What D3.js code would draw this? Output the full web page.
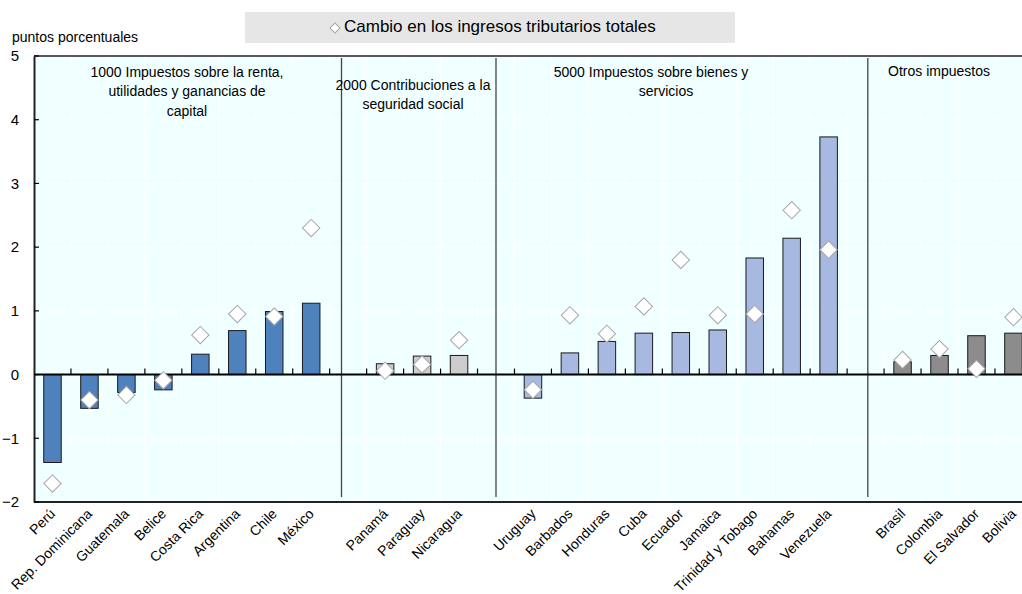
<!DOCTYPE html>
<html><head><meta charset="utf-8">
<script src="https://cdn.jsdelivr.net/npm/d3@7/dist/d3.min.js"></script>
<style>
body{margin:0;background:#fff;}
svg{display:block;font-family:"Liberation Sans",Arial,sans-serif;}
</style></head>
<body><svg id="c" width="1022" height="594"></svg>
<script>
const categories = ["Perú","Rep. Dominicana","Guatemala","Belice","Costa Rica","Argentina","Chile","México",
  "Panamá","Paraguay","Nicaragua",
  "Uruguay","Barbados","Honduras","Cuba","Ecuador","Jamaica","Trinidad y Tobago","Bahamas","Venezuela",
  "Brasil","Colombia","El Salvador","Bolivia"];
const groupIndex = [0,0,0,0,0,0,0,0, 1,1,1, 2,2,2,2,2,2,2,2,2, 3,3,3,3];
const groupValues = [-1.38,-0.53,-0.28,-0.24,0.32,0.69,0.99,1.12,
  0.17,0.29,0.30,
  -0.37,0.34,0.52,0.65,0.66,0.70,1.83,2.14,3.73,
  0.20,0.30,0.61,0.65];
const totalChange = [-1.71,-0.40,-0.32,-0.09,0.62,0.95,0.91,2.30,
  0.06,0.16,0.54,
  -0.24,0.93,0.64,1.07,1.80,0.93,0.95,2.58,1.96,
  0.23,0.40,0.09,0.90];
const groupLabels = [["1000 Impuestos sobre la renta,","utilidades y ganancias de","capital"],
  ["2000 Contribuciones a la","seguridad social"],
  ["5000 Impuestos sobre bienes y","servicios"],
  ["Otros impuestos"]];
const yTicks = [-2,-1,0,1,2,3,4,5];
const legendLabel = "Cambio en los ingresos tributarios totales";
const yAxisTitle = "puntos porcentuales";

const groupColors = ["#4f81bd","#cccccc","#a7b8e1","#8c8c8c"];
const svg = d3.select("#c");

// slot positions: one empty slot between groups
const slots = [];
let s = 0;
categories.forEach((c,i)=>{ if(i>0 && groupIndex[i]!==groupIndex[i-1]) s++; slots.push(s); s++; });
const nSlots = s;
const gapSlots = [];
for(let i=1;i<categories.length;i++) if(groupIndex[i]!==groupIndex[i-1]) gapSlots.push(slots[i]-1);

const x = d3.scaleLinear().domain([0,nSlots]).range([34,34+36.96*nSlots]);
const y = d3.scaleLinear().domain([-2,5]).range([502,56]);
const L=34, R=1022, T=56, B=502;

// background
svg.append("rect").attr("x",L).attr("y",T).attr("width",R-L).attr("height",B-T).attr("fill","#f0ffff");
// gridlines
svg.append("g").selectAll("line").data(d3.range(1,nSlots)).join("line")
  .attr("x1",d=>x(d)).attr("x2",d=>x(d)).attr("y1",T).attr("y2",B)
  .attr("stroke","#fff").attr("stroke-width",1);
svg.append("g").selectAll("line").data(yTicks.filter(v=>v!==0)).join("line")
  .attr("x1",L).attr("x2",R).attr("y1",d=>y(d)).attr("y2",d=>y(d))
  .attr("stroke","#fff").attr("stroke-width",1);

// group separators
const sepOffsets = [0.32,0.5,0.56];
svg.append("g").selectAll("line").data(gapSlots).join("line")
  .attr("x1",(d,i)=>x(d+sepOffsets[i])).attr("x2",(d,i)=>x(d+sepOffsets[i]))
  .attr("y1",T+2).attr("y2",B-5)
  .attr("stroke","#444").attr("stroke-width",1.3);

// group headers
const headerCenters = [[187,187,187],[413,413],[651,666],[939]];
const headerTops = [73,86,73,72];
groupLabels.forEach((lines,g)=>{
  lines.forEach((t,k)=>{
    svg.append("text").attr("x",headerCenters[g][k]).attr("y",headerTops[g]+k*19.5)
      .attr("text-anchor","middle").attr("dominant-baseline","middle")
      .attr("font-size",14).attr("fill","#000").text(t);
  });
});

// bars
const bw = 17.5;
svg.append("g").selectAll("rect").data(categories).join("rect")
  .attr("x",(d,i)=>x(slots[i]+0.5)-bw/2).attr("width",bw)
  .attr("y",(d,i)=>y(Math.max(0,groupValues[i])))
  .attr("height",(d,i)=>Math.abs(y(groupValues[i])-y(0)))
  .attr("fill",(d,i)=>groupColors[groupIndex[i]])
  .attr("stroke","#1a1a1a").attr("stroke-width",1);

// zero line & ticks
svg.append("line").attr("x1",L).attr("x2",R).attr("y1",y(0)).attr("y2",y(0)).attr("stroke","#000").attr("stroke-width",2);
svg.append("g").selectAll("line").data(d3.range(1,nSlots)).join("line")
  .attr("x1",d=>x(d)).attr("x2",d=>x(d)).attr("y1",y(0)).attr("y2",y(0)-6)
  .attr("stroke","#000").attr("stroke-width",1.2);

// diamonds
const diamond = d3.symbol().type(d3.symbolSquare).size(150);
svg.append("g").selectAll("path").data(categories).join("path")
  .attr("d",diamond)
  .attr("transform",(d,i)=>`translate(${x(slots[i]+0.5)},${y(totalChange[i])}) rotate(45)`)
  .attr("fill","#fff").attr("stroke","#a6a6a6").attr("stroke-width",1);

// frame
svg.append("line").attr("x1",L).attr("x2",R).attr("y1",T).attr("y2",T).attr("stroke","#222").attr("stroke-width",1.5);
svg.append("line").attr("x1",L).attr("x2",R).attr("y1",B).attr("y2",B).attr("stroke","#222").attr("stroke-width",2);

// y axis
const yAxis = d3.axisLeft(y).tickValues(yTicks).tickSize(0).tickPadding(15).tickFormat(d3.format("d"));
const ya = svg.append("g").attr("transform",`translate(${L},0)`).call(yAxis);
ya.select(".domain").attr("stroke","#222").attr("stroke-width",2);
ya.selectAll("text").attr("font-size",15).attr("fill","#000").attr("font-family","Liberation Sans, Arial, sans-serif");
svg.append("g").selectAll("line").data(yTicks).join("line")
  .attr("x1",L).attr("x2",L+5).attr("y1",d=>y(d)).attr("y2",d=>y(d)).attr("stroke","#000").attr("stroke-width",1.2);

svg.append("text").attr("x",12).attr("y",38).attr("dominant-baseline","middle")
  .attr("font-size",14).text(yAxisTitle);

// x labels
svg.append("g").selectAll("text").data(categories).join("text")
  .attr("transform",(d,i)=>`translate(${x(slots[i]+0.5)+1},${B+10}) rotate(-45)`)
  .attr("text-anchor","end").attr("dominant-baseline","middle")
  .attr("font-size",14).text(d=>d);

// legend
svg.append("rect").attr("x",245).attr("y",12).attr("width",490).attr("height",31).attr("fill","#e6e6e6");
svg.append("path").attr("d",d3.symbol().type(d3.symbolSquare).size(50))
  .attr("transform","translate(335,28) rotate(45)").attr("fill","#fff").attr("stroke","#a6a6a6");
svg.append("text").attr("x",344).attr("y",28).attr("dominant-baseline","middle")
  .attr("font-size",17).text(legendLabel);
</script></body></html>
